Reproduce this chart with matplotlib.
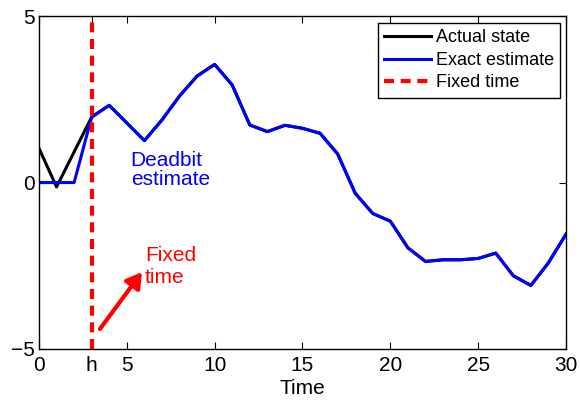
import matplotlib
matplotlib.use("Agg")
import matplotlib.pyplot as plt

plt.rcParams['font.family'] = ['Liberation Sans', 'DejaVu Sans']

# State trajectory and estimates, sampled once per time step
time = list(range(31))
actual_state = [1.03, -0.13, 0.92, 1.97, 2.32, 1.79, 1.26, 1.88, 2.6, 3.2, 3.55,
                2.93, 1.73, 1.53, 1.72, 1.63, 1.48, 0.86, -0.32, -0.93, -1.16,
                -1.96, -2.37, -2.32, -2.32, -2.28, -2.12, -2.8, -3.09, -2.41, -1.55]
exact_estimate = [0.0, 0.0, 0.0] + actual_state[3:]
fixed_time = 3

xticks = [0, 3, 5, 10, 15, 20, 25, 30]
xtick_labels = ['0', 'h', '5', '10', '15', '20', '25', '30']
yticks = [-5, 0, 5]

fig = plt.figure(figsize=(5.8, 4.03), dpi=100)
ax = fig.add_axes([0.0672, 0.134, 0.9087, 0.826])

ax.plot(time, actual_state, color='black', lw=2.2, label='Actual state')
ax.plot(time, exact_estimate, color='blue', lw=2.2, label='Exact estimate')
ax.axvline(fixed_time, color='red', lw=3, linestyle=(0, (2.4, 1.6)), label='Fixed time')

ax.text(5.22, 0.38, 'Deadbit\nestimate', color='blue', fontsize=15,
        ha='left', va='center', linespacing=1.05)
ax.text(6.03, -2.53, 'Fixed\ntime', color='red', fontsize=15,
        ha='left', va='center', linespacing=1.2)
ax.annotate('', xy=(5.86, -2.69), xytext=(3.47, -4.4),
            arrowprops=dict(arrowstyle='-|>,head_length=0.5,head_width=0.3',
                            color='red', lw=3, mutation_scale=18,
                            shrinkA=0, shrinkB=0))

ax.set_xlim(0, 30)
ax.set_ylim(-5, 5)
ax.set_xticks(xticks)
ax.set_xticklabels(xtick_labels)
ax.set_yticks(yticks)
ax.set_yticklabels(['\u22125', '0', '5'])
ax.tick_params(direction='in', length=5, width=0.8, top=True, right=True,
               labelsize=15)
ax.tick_params(axis='x', pad=5)
ax.tick_params(axis='y', pad=3)
for spine in ax.spines.values():
    spine.set_linewidth(1.0)
ax.set_xlabel('Time', fontsize=15, labelpad=3)

leg = ax.legend(loc='upper right', bbox_to_anchor=(0.989, 0.979), fontsize=13,
                fancybox=False, framealpha=1, edgecolor='black',
                handlelength=2.6, handletextpad=0.25, labelspacing=0.3,
                borderpad=0.35, borderaxespad=0)
leg.get_frame().set_linewidth(1.0)

fig.savefig('out.png', dpi=100)
